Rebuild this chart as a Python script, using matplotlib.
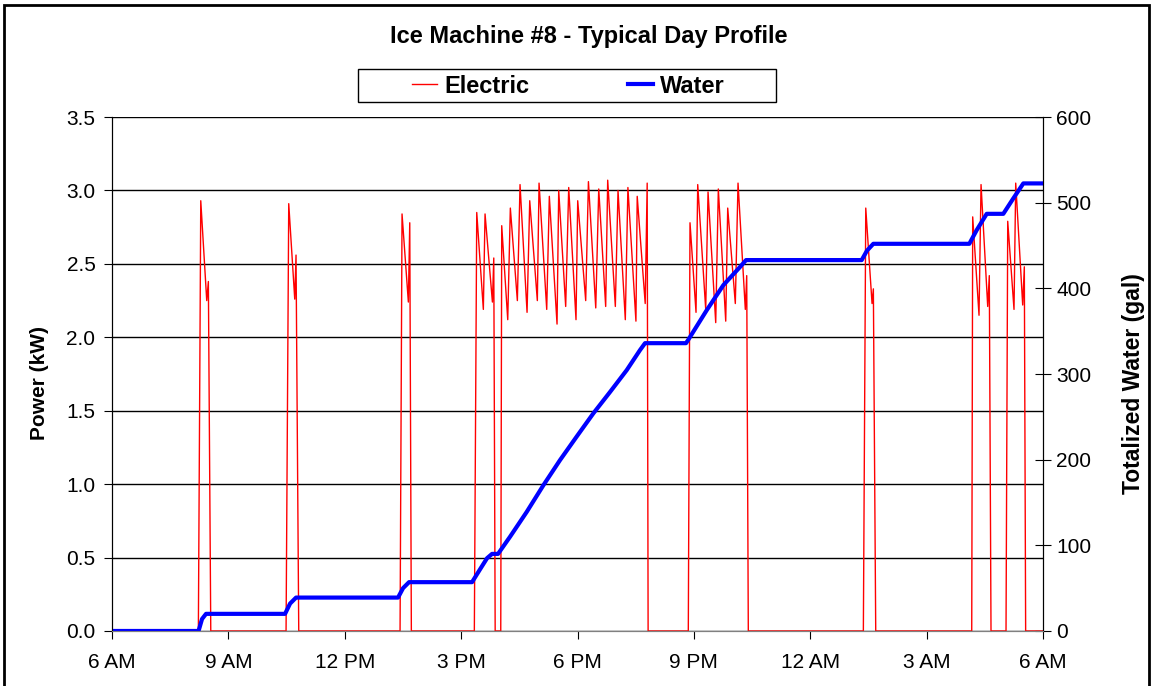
import matplotlib
matplotlib.use("Agg")
import matplotlib.pyplot as plt
from matplotlib.patches import Rectangle

# ---- data (hours after 6 AM) ----
elec_hours = [0.0,
              2.225, 2.287, 2.441, 2.483, 2.545,
              4.486, 4.555, 4.710, 4.743, 4.813,
              7.425, 7.476, 7.639, 7.675, 7.716,
              9.340, 9.402, 9.572, 9.616, 9.806, 9.841, 9.877,
              10.021, 10.046, 10.201, 10.268, 10.449, 10.518, 10.699, 10.768,
              10.964, 11.008, 11.206, 11.273, 11.472, 11.515, 11.695, 11.773,
              11.961, 12.005, 12.211, 12.281, 12.470, 12.547, 12.726, 12.778,
              12.975, 13.044, 13.232, 13.299, 13.506, 13.539, 13.745, 13.796, 13.820,
              14.856, 14.900, 15.055, 15.099, 15.305, 15.365, 15.563, 15.630,
              15.821, 15.872, 16.068, 16.138, 16.326, 16.362, 16.403,
              19.369, 19.431, 19.593, 19.627, 19.688,
              22.163, 22.188, 22.351, 22.403, 22.575, 22.616, 22.660,
              23.047, 23.091, 23.253, 23.297, 23.477, 23.519, 23.553,
              24.0]
elec_kw = [0.0,
           0.0, 2.93, 2.25, 2.38, 0.0,
           0.0, 2.91, 2.26, 2.56, 0.0,
           0.0, 2.84, 2.24, 2.78, 0.0,
           0.0, 2.85, 2.19, 2.84, 2.24, 2.54, 0.0,
           0.0, 2.76, 2.12, 2.88, 2.25, 3.04, 2.17, 2.93,
           2.25, 3.05, 2.19, 2.96, 2.09, 3.00, 2.21, 3.02,
           2.12, 2.93, 2.25, 3.06, 2.20, 3.01, 2.21, 3.07,
           2.21, 3.00, 2.12, 3.02, 2.11, 2.96, 2.23, 3.05, 0.0,
           0.0, 2.78, 2.17, 3.04, 2.19, 2.99, 2.10, 3.01,
           2.11, 2.88, 2.23, 3.05, 2.19, 2.42, 0.0,
           0.0, 2.88, 2.23, 2.33, 0.0,
           0.0, 2.82, 2.15, 3.04, 2.21, 2.42, 0.0,
           0.0, 2.79, 2.19, 3.05, 2.22, 2.48, 0.0,
           0.0]

water_hours = [0.0, 2.230, 2.320, 2.423, 4.460, 4.589, 4.744, 7.373, 7.502, 7.657,
               9.281, 9.487, 9.668, 9.797, 9.951, 10.260, 10.690, 11.118, 11.549,
               11.979, 12.407, 12.838, 13.268, 13.612, 13.741, 14.797, 14.856,
               15.331, 15.759, 16.190, 16.345, 19.326, 19.462, 19.626, 22.101,
               22.291, 22.549, 22.977, 23.235, 23.493, 24.0]
water_gal = [0, 0, 14, 20, 20, 32, 39, 39, 50, 57,
             57, 72, 85, 90, 90, 110, 139, 170, 199.5,
             227, 254, 279, 304.5, 328, 336, 336, 340,
             374.5, 403.7, 425, 433, 433, 444, 452, 452,
             468, 487, 487, 505, 522.5, 522.5]

tick_hours = [0, 3, 6, 9, 12, 15, 18, 21, 24]
tick_labels = ["6 AM", "9 AM", "12 PM", "3 PM", "6 PM", "9 PM", "12 AM", "3 AM", "6 AM"]

plt.rcParams['font.family'] = ['Liberation Sans', 'DejaVu Sans']

fig = plt.figure(figsize=(11.54, 6.86), dpi=100)
ax = fig.add_axes([0.0971, 0.0802, 0.8067, 0.7492])
ax2 = ax.twinx()

# electric (left axis)
l1, = ax.plot(elec_hours, elec_kw, color='red', linewidth=1.0, label='Electric')
ax.set_xlim(0, 24)
ax.set_ylim(0, 3.5)
ax.set_yticks([0, 0.5, 1.0, 1.5, 2.0, 2.5, 3.0, 3.5])
ax.set_yticklabels(["%.1f" % v for v in ax.get_yticks()])
ax.set_xticks(tick_hours)
ax.set_xticklabels(tick_labels)
ax.yaxis.grid(True, color='black', linewidth=1.0)
ax.set_axisbelow(True)
ax.tick_params(axis='both', direction='out', length=6, labelsize=15, colors='black')
ax.tick_params(axis='x', pad=10)
ax.tick_params(axis='y', pad=6)
ax.set_ylabel("Power (kW)", fontsize=15, fontweight='bold', labelpad=12)
ax.yaxis.label.set_y(0.482)

# water (right axis)
l2, = ax2.plot(water_hours, water_gal, color='#0000ff', linewidth=3.0, label='Water')
ax2.set_ylim(0, 600)
ax2.set_yticks([0, 100, 200, 300, 400, 500, 600])
ax2.tick_params(axis='y', direction='inout', length=12, labelsize=15)
ax2.set_ylabel("Totalized Water (gal)", fontsize=16.5, fontweight='bold', labelpad=22)
ax2.yaxis.label.set_y(0.482)

for a in (ax, ax2):
    a.spines['top'].set_visible(False)
    a.spines['bottom'].set_color('#808080')
    a.spines['left'].set_color('black')
    a.spines['right'].set_color('black')

fig.text(0.5098, 0.9475, "Ice Machine #8 - Typical Day Profile",
         ha='center', va='center', fontsize=17, fontweight='bold')

# legend box drawn separately so the entries sit centred with wide padding
fig.patches.append(Rectangle((0.3105, 0.8509), 0.3620, 0.0485,
                             transform=fig.transFigure, fill=True, facecolor='white',
                             edgecolor='black', linewidth=1.0))
leg = fig.legend(handles=[l1, l2], loc='center', bbox_to_anchor=(0.4928, 0.8746),
                 ncol=2, frameon=False, prop={'weight': 'bold', 'size': 17},
                 handlelength=1.05, handletextpad=0.3, columnspacing=4.2,
                 borderpad=0.0)

# outer chart border
fig.patches.append(Rectangle((4 / 1154, -0.02), 1145 / 1154, 1.0 - 5 / 686 + 0.02,
                             transform=fig.transFigure, fill=False,
                             edgecolor='black', linewidth=2))

fig.savefig("out.png", dpi=100)
